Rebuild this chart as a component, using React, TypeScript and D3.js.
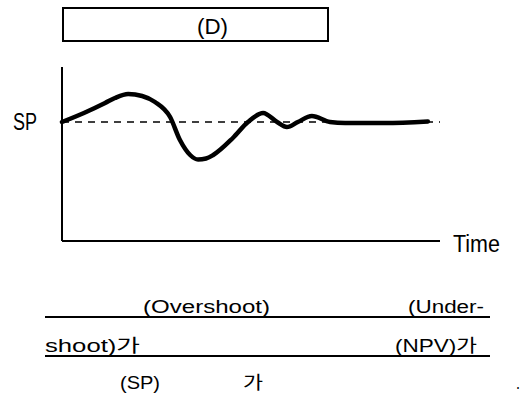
import React from "react";
import * as d3 from "d3";

// Response curve: time (0..100) vs deviation from set point (SP = 0)
const timeValues = [0, 5.8, 11.4, 14, 17.5, 21.2, 24.6, 28.6, 31.2, 33.9, 36, 38.1, 40, 45.2, 49.2, 53.2, 56.9, 59.5, 62.4, 66.1, 70.9, 74.9, 85.4, 96.8];
const responseValues = [0, 0.9, 1.9, 2.4, 2.8, 2.6, 2.0, 0.5, -1.8, -3.3, -3.75, -3.65, -3.3, -1.6, 0, 0.9, 0, -0.5, 0, 0.6, 0, -0.1, -0.1, 0.05];
const setPoint = 0;

const titleText = "(D)";
const yLabel = "SP";
const xLabel = "Time";
const captionLines = [
  [{ t: "(Overshoot)", x: 143, w: 127 }, { t: "(Under-", x: 408, w: 76 }],
  [{ t: "shoot)가", x: 45, w: 95 }, { t: "(NPV)가", x: 395, w: 82 }],
  [{ t: "(SP)", x: 120, w: 40 }, { t: "가", x: 243, w: 20 }, { t: ".", x: 516, w: 4 }],
];

const W = 522;
const H = 394;

export default function App() {
  const x = d3.scaleLinear().domain([0, 100]).range([62, 440]);
  const y = d3.scaleLinear().domain([-11.9, 5.5]).range([241, 67]);

  const pts: [number, number][] = timeValues.map((t, i) => [t, responseValues[i]]);
  const line = d3
    .line<[number, number]>()
    .x((d) => x(d[0]))
    .y((d) => y(d[1]))
    .curve(d3.curveMonotoneX);

  const font = "'Liberation Sans', 'Noto Sans CJK KR', sans-serif";
  const baselines = [313, 352, 389];

  return (
    <svg
      width={W}
      height={H}
      style={{ position: "absolute", left: 0, top: 0, background: "#fff" }}
      fontFamily={font}
    >
      {/* title box */}
      <rect x={63} y={8} width={265} height={33} fill="none" stroke="#000" strokeWidth={2} />
      <text x={197} y={34} fontSize={22} textLength={31} lengthAdjust="spacingAndGlyphs">
        {titleText}
      </text>

      {/* axes */}
      <line x1={x(0)} x2={x(0)} y1={y(5.5)} y2={y(-11.9)} stroke="#000" strokeWidth={2} />
      <line x1={x(0)} x2={x(100)} y1={y(-11.9)} y2={y(-11.9)} stroke="#000" strokeWidth={2} />

      {/* set point dashed line */}
      <line
        x1={x(0)}
        x2={x(100)}
        y1={y(setPoint)}
        y2={y(setPoint)}
        stroke="#000"
        strokeWidth={1.5}
        strokeDasharray="7,6"
      />

      {/* response curve */}
      <path d={line(pts) || ""} fill="none" stroke="#000" strokeWidth={4.5} strokeLinecap="round" strokeLinejoin="round" />

      {/* labels */}
      <text x={13} y={130} fontSize={23} textLength={24} lengthAdjust="spacingAndGlyphs">
        {yLabel}
      </text>
      <text x={453} y={252} fontSize={23} textLength={47} lengthAdjust="spacingAndGlyphs">
        {xLabel}
      </text>

      {/* caption */}
      <line x1={45} x2={490} y1={317} y2={317} stroke="#000" strokeWidth={2} />
      <line x1={45} x2={490} y1={356} y2={356} stroke="#000" strokeWidth={2} />
      {captionLines.map((row, ri) =>
        row.map((c, ci) => (
          <text
            key={ri + "-" + ci}
            x={c.x}
            y={baselines[ri]}
            fontSize={18}
            textLength={c.w}
            lengthAdjust="spacingAndGlyphs"
          >
            {c.t}
          </text>
        ))
      )}
    </svg>
  );
}
